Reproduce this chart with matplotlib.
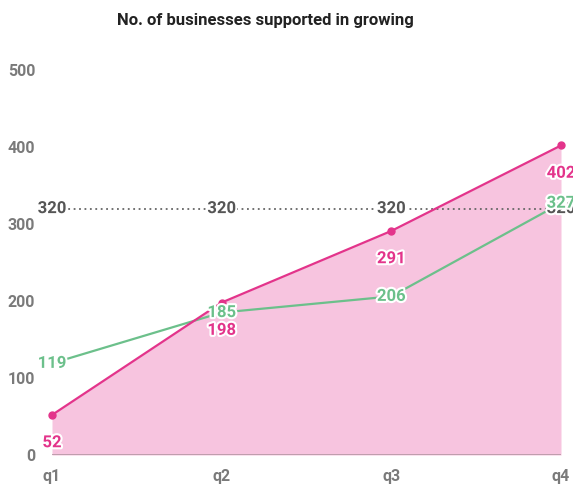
""" Quarterly line chart: businesses supported in growing. """

import numpy as np
import matplotlib
matplotlib.use('Agg')
from matplotlib import pyplot as plt
import matplotlib.patheffects as pe

plt.rcParams['font.family'] = ['Roboto', 'DejaVu Sans']

# Data
quarters = ['q1', 'q2', 'q3', 'q4']
supported = [52, 198, 291, 402]
growing = [119, 185, 206, 327]
target = 320
yticks = [0, 100, 200, 300, 400, 500]

pink = '#e3348b'
pink_fill = '#f7c4df'
green = '#6cc08b'
grey = '#7a7a7a'

fig = plt.figure(figsize=(5.73, 4.84), dpi=100)
ax = fig.add_axes([52/573, 1-455/484, (561-52)/573, (455-70)/484])

x = np.arange(len(quarters))
halo = [pe.withStroke(linewidth=3, foreground='white')]

# Area + line
ax.fill_between(x, 0, supported, color=pink_fill, lw=0, zorder=1)
ax.plot(x, supported, color=pink, lw=1.6, marker='o', ms=5, zorder=4,
        clip_on=False)
ax.plot(x, growing, color=green, lw=1.6, zorder=3)

# Target line
ax.plot(x, [target]*len(x), color='#666666', lw=1.3, ls=(0, (1, 2)),
        zorder=2)

# Baseline
ax.axhline(0, color='#b99aa8', lw=2, zorder=2)

# Labels
for xi, v in zip(x, supported):
    ax.annotate(str(v), (xi, v), xytext=(0, -20), textcoords='offset points',
                ha='center', va='center', color=pink, fontsize=12,
                fontweight='bold', path_effects=halo, zorder=6,
                annotation_clip=False)
for xi, v in zip(x, growing):
    ax.text(xi, v, str(v), ha='center', va='center', color=green,
            fontsize=12, fontweight='bold', path_effects=halo, zorder=6,
            clip_on=False)
for xi in x:
    ax.text(xi, target, str(target), ha='center', va='center',
            color='#555555', fontsize=12, fontweight='bold',
            path_effects=halo, zorder=5, clip_on=False)

# Axes
ax.set_xlim(0, 3)
ax.set_ylim(0, 500)
ax.set_xticks(x)
ax.set_xticklabels(quarters)
ax.set_yticks(yticks)
for s in ax.spines.values():
    s.set_visible(False)
ax.tick_params(length=0, labelsize=11.5, labelcolor=grey, pad=10)
ax.tick_params(axis='y', pad=12)
for lbl in ax.get_xticklabels() + ax.get_yticklabels():
    lbl.set_fontweight('bold')

fig.text(265/573, 1-20/484, 'No. of businesses supported in growing',
         ha='center', va='center', fontsize=12, fontweight='bold',
         color='#222222')

plt.savefig('out.png', dpi=100)
